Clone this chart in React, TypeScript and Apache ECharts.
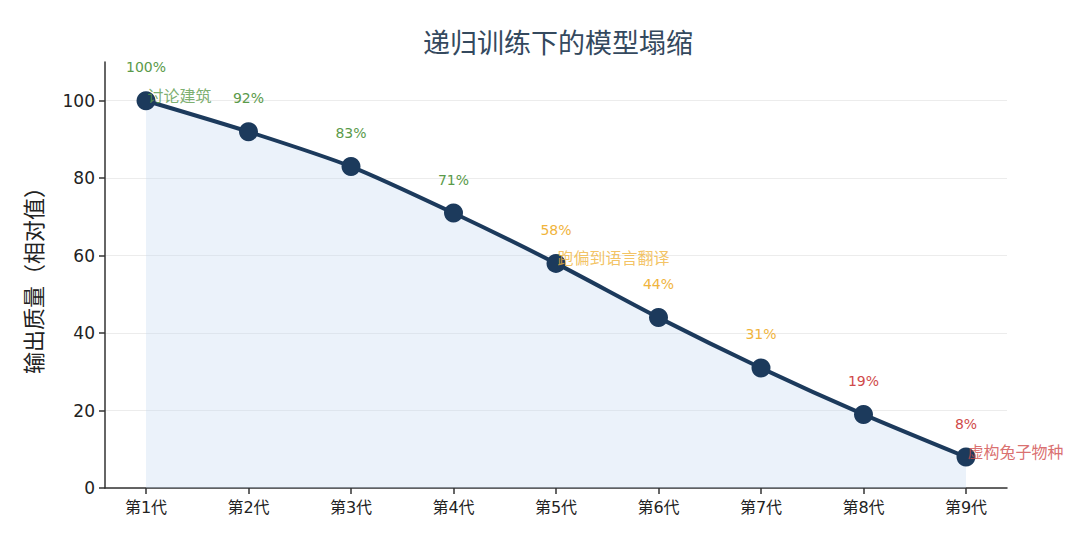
import React, { useEffect, useRef } from "react";
import * as echarts from "echarts";

const categories = ["第1代", "第2代", "第3代", "第4代", "第5代", "第6代", "第7代", "第8代", "第9代"];
const values = [100, 92, 83, 71, 58, 44, 31, 19, 8];
const labelColors = ["#5a9a4a", "#5a9a4a", "#5a9a4a", "#5a9a4a", "#f0b43c", "#f0b43c", "#f0b43c", "#d04a4a", "#d04a4a"];
const annotations = [
  { index: 0, text: "讨论建筑", color: "#5a9a4a" },
  { index: 4, text: "跑偏到语言翻译", color: "#f0b43c" },
  { index: 8, text: "虚构兔子物种", color: "#d04a4a" },
];
const yTicks = [0, 20, 40, 60, 80, 100];

const FONT = "'DejaVu Sans', 'Noto Sans CJK SC', sans-serif";
const CJK = "'Noto Sans CJK SC', 'DejaVu Sans', sans-serif";

export default function App() {
  const ref = useRef<HTMLDivElement>(null);
  useEffect(() => {
    if (!ref.current) return;
    const chart = echarts.init(ref.current, undefined, { renderer: "svg" });
    chart.setOption({
      animation: false,
      backgroundColor: "#ffffff",
      title: {
        text: "递归训练下的模型塌缩",
        left: 553,
        top: 23,
        textAlign: "center",
        textStyle: { fontFamily: CJK, fontSize: 27, fontWeight: "normal", color: "#34495e" },
      },
      grid: { left: 105, right: 73, top: 62, bottom: 52 },
      xAxis: {
        type: "value",
        min: -0.4,
        max: 8.4,
        axisLine: { show: true, onZero: false, lineStyle: { color: "#333", width: 1.5 } },
        axisTick: { show: true, customValues: categories.map((_, i) => i), length: 6, lineStyle: { color: "#333", width: 1.5 } },
        axisLabel: {
          customValues: categories.map((_, i) => i),
          formatter: (v: number) => categories[Math.round(v)] ?? "",
          fontFamily: FONT,
          fontSize: 16,
          color: "#222",
          margin: 11,
        },
        splitLine: { show: false },
      },
      yAxis: {
        type: "value",
        min: 0,
        max: 110,
        name: "输出质量（相对值）",
        nameLocation: "middle",
        nameGap: 62,
        nameTextStyle: { fontFamily: CJK, fontSize: 22, color: "#222" },
        axisLine: { show: true, onZero: false, lineStyle: { color: "#333", width: 1.5 } },
        axisTick: { show: true, customValues: yTicks, length: 6, lineStyle: { color: "#333", width: 1.5 } },
        axisLabel: { customValues: yTicks, fontFamily: FONT, fontSize: 17, color: "#222", margin: 10 },
        splitLine: { show: true, lineStyle: { color: "#ececec", width: 1 } },
      },
      series: [
        {
          type: "line",
          data: values.map((v, i) => ({
            value: [i, v],
            label: { color: labelColors[i] },
          })),
          smooth: 0.25,
          symbol: "circle",
          symbolSize: 19,
          itemStyle: { color: "#1c3a5c" },
          lineStyle: { color: "#1c3a5c", width: 4 },
          areaStyle: { color: "rgba(190, 215, 240, 0.45)", origin: "start" },
          label: {
            show: true,
            position: "top",
            distance: 17,
            formatter: (p: any) => p.value[1] + "%",
            fontFamily: FONT,
            fontSize: 14,
          },
          z: 3,
        },
        {
          type: "scatter",
          data: annotations.map((a) => ({
            value: [a.index, values[a.index]],
            label: { color: a.color },
          })),
          symbolSize: 1,
          itemStyle: { color: "rgba(0,0,0,0)" },
          label: {
            show: true,
            position: "right",
            offset: [-4, -6],
            formatter: (p: any) => annotations[p.dataIndex].text,
            fontFamily: CJK,
            fontSize: 16,
          },
          z: 5,
        },
      ],
    });
    return () => chart.dispose();
  }, []);
  return <div ref={ref} style={{ position: "absolute", left: 0, top: 0, width: 1080, height: 540 }} />;
}
